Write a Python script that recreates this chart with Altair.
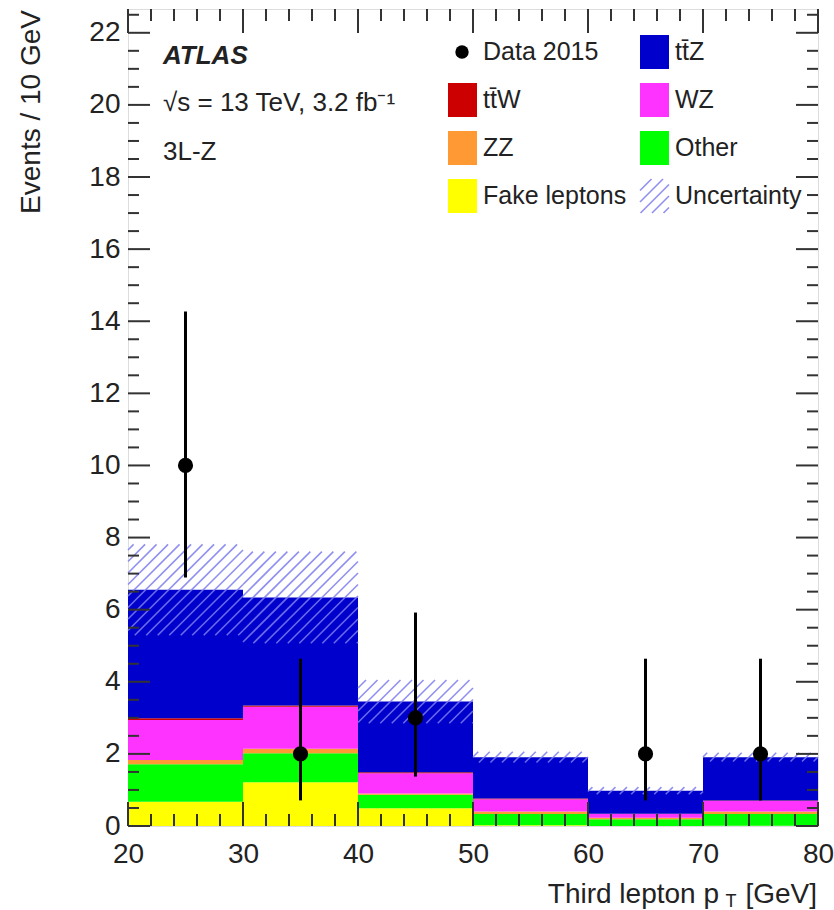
import altair as alt
import numpy as np
import pandas as pd

# ---------------- data ----------------
bin_lo = [20, 30, 40, 50, 60, 70]
bin_hi = [30, 40, 50, 60, 70, 80]
fake = [0.67, 1.21, 0.49, 0.02, 0.00, 0.01]
other = [1.04, 0.81, 0.38, 0.31, 0.19, 0.32]
zz = [0.12, 0.12, 0.03, 0.07, 0.04, 0.07]
wz = [1.11, 1.17, 0.56, 0.34, 0.10, 0.29]
ttw = [0.05, 0.03, 0.03, 0.02, 0.01, 0.02]
ttz = [3.56, 3.00, 1.96, 1.15, 0.64, 1.20]
unc = [1.26, 1.27, 0.60, 0.15, 0.10, 0.12]

data_x = [25, 35, 45, 65, 75]
data_y = [10, 2, 3, 2, 2]
data_lo = [6.89, 0.71, 1.37, 0.71, 0.71]
data_hi = [14.27, 4.64, 5.92, 4.64, 4.64]

processes = ["Fake leptons", "Other", "ZZ", "WZ", "tt\u0304W", "tt\u0304Z"]
proc_values = [fake, other, zz, wz, ttw, ttz]
proc_colors = ["#FFFF00", "#00FF00", "#FF9933", "#FF33FF", "#CC0000", "#0000CC"]

x_major = [20, 30, 40, 50, 60, 70, 80]
y_major = [0, 2, 4, 6, 8, 10, 12, 14, 16, 18, 20, 22]

# ---------------- geometry / style ----------------
W, H = 690, 817
XMIN, XMAX, YMAX = 20, 80, 22.66
FONT = "Liberation Sans"
TXT = "#222222"

xs = alt.Scale(domain=[XMIN, XMAX], nice=False, zero=False)
ys = alt.Scale(domain=[0, YMAX], nice=False, zero=True)
xaxis = alt.Axis(values=x_major, title=None, labelFontSize=28, labelFont=FONT,
                 labelColor=TXT, ticks=False, tickSize=0, domain=False, grid=False,
                 labelPadding=14, labelFlush=False, labelOverlap=False, format="d")
yaxis = alt.Axis(values=y_major, title=None, labelFontSize=28, labelFont=FONT,
                 labelColor=TXT, ticks=False, tickSize=0, domain=False, grid=False,
                 labelPadding=8, labelOverlap=False, format="d")


def X(f):
    return alt.X(f, type="quantitative", scale=xs, axis=xaxis)


def Y(f):
    return alt.Y(f, type="quantitative", scale=ys, axis=yaxis)


# ---------------- stacked histogram ----------------
rows = []
cum = np.zeros(len(bin_lo))
for name, vals, col in zip(processes, proc_values, proc_colors):
    v = np.array(vals)
    for i in range(len(bin_lo)):
        rows.append(dict(proc=name, lo=bin_lo[i], hi=bin_hi[i],
                         y0=cum[i], y1=cum[i] + v[i], color=col))
    cum = cum + v
stack_df = pd.DataFrame(rows)
totals = cum.copy()

stack = alt.Chart(stack_df).mark_rect(strokeWidth=0).encode(
    x=X("lo"), x2="hi", y=Y("y0"), y2="y1",
    color=alt.Color("color:N", scale=None),
)

# ---------------- uncertainty hatching ----------------
sx = W / (XMAX - XMIN)
sy = H / YMAX
spacing = 11.5
hrows = []
for lo, hi, tot, u in zip(bin_lo, bin_hi, totals, unc):
    x0, x1 = (lo - XMIN) * sx, (hi - XMIN) * sx
    y0, y1 = (tot - u) * sy, (tot + u) * sy
    kmin = int(np.floor((y0 - x1) / spacing))
    kmax = int(np.ceil((y1 - x0) / spacing))
    for k in range(kmin, kmax + 1):
        c = k * spacing
        xa = max(x0, y0 - c)
        xb = min(x1, y1 - c)
        if xb > xa + 0.5:
            hrows.append(dict(hx=XMIN + xa / sx, hy=(xa + c) / sy,
                              hx2=XMIN + xb / sx, hy2=(xb + c) / sy))
hatch_df = pd.DataFrame(hrows)
hatch = alt.Chart(hatch_df).mark_rule(color="#7d7dee", strokeWidth=1.6, opacity=0.85).encode(
    x=X("hx"), y=Y("hy"), x2="hx2", y2="hy2"
)

# ---------------- frame ticks ----------------
x_minor = [v for v in range(20, 81, 2) if v % 10 != 0]
y_minor = [v / 2 for v in range(0, 46) if v % 4 != 0]
xmaj_df = pd.DataFrame({"t": x_major})
xmin_df = pd.DataFrame({"t": x_minor})
ymaj_df = pd.DataFrame({"t": y_major})
ymin_df = pd.DataFrame({"t": y_minor})
TICKC = "#333333"
tick_layers = [
    alt.Chart(xmaj_df).mark_rule(color=TICKC, strokeWidth=2).encode(
        x=X("t"), y=alt.value(H), y2=alt.value(H - 24)),
    alt.Chart(xmin_df).mark_rule(color=TICKC, strokeWidth=2).encode(
        x=X("t"), y=alt.value(H), y2=alt.value(H - 12)),
    alt.Chart(xmaj_df).mark_rule(color=TICKC, strokeWidth=2).encode(
        x=X("t"), y=alt.value(0), y2=alt.value(24)),
    alt.Chart(xmin_df).mark_rule(color=TICKC, strokeWidth=2).encode(
        x=X("t"), y=alt.value(0), y2=alt.value(12)),
    alt.Chart(ymaj_df).mark_rule(color=TICKC, strokeWidth=2).encode(
        y=Y("t"), x=alt.value(0), x2=alt.value(22)),
    alt.Chart(ymin_df).mark_rule(color=TICKC, strokeWidth=2).encode(
        y=Y("t"), x=alt.value(0), x2=alt.value(11)),
    alt.Chart(ymaj_df).mark_rule(color=TICKC, strokeWidth=2).encode(
        y=Y("t"), x=alt.value(W), x2=alt.value(W - 22)),
    alt.Chart(ymin_df).mark_rule(color=TICKC, strokeWidth=2).encode(
        y=Y("t"), x=alt.value(W), x2=alt.value(W - 11)),
]

# ---------------- data points ----------------
pts_df = pd.DataFrame({"x": data_x, "y": data_y, "lo": data_lo, "hi": data_hi})
errbars = alt.Chart(pts_df).mark_rule(color="black", strokeWidth=3).encode(
    x=X("x"), y=Y("lo"), y2="hi")
points = alt.Chart(pts_df).mark_circle(color="black", opacity=1, size=230).encode(
    x=X("x"), y=Y("y"))

# ---------------- texts ----------------
def label(text, x, y, size=26, align="left", baseline="middle", weight="normal",
          style="normal", angle=0):
    return alt.Chart(pd.DataFrame({"t": [text]})).mark_text(
        font=FONT, fontSize=size, align=align, baseline=baseline, fontWeight=weight,
        fontStyle=style, color=TXT, angle=angle).encode(
        text="t:N", x=alt.value(x), y=alt.value(y))


texts = [
    label("ATLAS", 35, 47, size=26, weight="bold", style="italic"),
    label("\u221as = 13 TeV, 3.2 fb\u207b\u00b9", 35, 94, size=26),
    label("3L-Z", 35, 143, size=26),
    label("Events / 10 GeV", -88, 1, size=28, align="right", baseline="alphabetic", angle=270),
    label("[GeV]", 689, 894, size=28, align="right", baseline="alphabetic"),
    label("Third lepton p", 591, 894, size=28, align="right", baseline="alphabetic"),
    label("T", 603, 898, size=18, align="center", baseline="alphabetic"),
]

# ---------------- legend ----------------
col_box_x = [320, 512]
col_txt_x = [355, 547]
row_y = [43, 91, 139, 187]
leg_items = [  # (label, color, col, row)
    ("tt\u0304W", "#CC0000", 0, 1),
    ("ZZ", "#FF9933", 0, 2),
    ("Fake leptons", "#FFFF00", 0, 3),
    ("tt\u0304Z", "#0000CC", 1, 0),
    ("WZ", "#FF33FF", 1, 1),
    ("Other", "#00FF00", 1, 2),
]
leg_df = pd.DataFrame([
    dict(lab=l, color=c, bx0=col_box_x[ci], bx1=col_box_x[ci] + 29,
         by0=row_y[ri] - 17, by1=row_y[ri] + 17, tx=col_txt_x[ci], ty=row_y[ri])
    for l, c, ci, ri in leg_items
])
leg_boxes = alt.Chart(leg_df).mark_rect().encode(
    x=alt.X("bx0:Q", scale=None), x2="bx1:Q",
    y=alt.Y("by0:Q", scale=None), y2="by1:Q",
    color=alt.Color("color:N", scale=None))

leg_txt_df = pd.concat([
    leg_df[["lab", "tx", "ty"]],
    pd.DataFrame([dict(lab="Data 2015", tx=col_txt_x[0], ty=row_y[0]),
                  dict(lab="Uncertainty", tx=col_txt_x[1], ty=row_y[3])]),
], ignore_index=True)
leg_txt = alt.Chart(leg_txt_df).mark_text(
    font=FONT, fontSize=25, align="left", baseline="middle", color=TXT).encode(
    x=alt.X("tx:Q", scale=None), y=alt.Y("ty:Q", scale=None), text="lab:N")

leg_dot = alt.Chart(pd.DataFrame({"px": [col_box_x[0] + 14], "py": [row_y[0]]})).mark_circle(
    color="black", opacity=1, size=180).encode(
    x=alt.X("px:Q", scale=None), y=alt.Y("py:Q", scale=None))

# hatch inside the legend "Uncertainty" box (screen coordinates, y downward)
bx0, bx1 = col_box_x[1], col_box_x[1] + 29
by0, by1 = row_y[3] - 17, row_y[3] + 17
lrows = []
for k in range(-10, 20):
    c = bx0 + by0 + k * spacing  # line: x + y = c
    xa = max(bx0, c - by1)
    xb = min(bx1, c - by0)
    if xb > xa + 0.5:
        lrows.append(dict(lx=xa, ly=c - xa, lx2=xb, ly2=c - xb))
leg_hatch = alt.Chart(pd.DataFrame(lrows)).mark_rule(
    color="#7d7dee", strokeWidth=1.6, opacity=0.85).encode(
    x=alt.X("lx:Q", scale=None), y=alt.Y("ly:Q", scale=None),
    x2="lx2:Q", y2="ly2:Q")

chart = alt.layer(
    stack, hatch, *tick_layers, errbars, points, *texts,
    leg_boxes, leg_hatch, leg_dot, leg_txt,
).properties(
    width=W, height=H,
    autosize=alt.AutoSizeParams(type="none"),
    padding={"left": 128, "top": 9, "right": 16, "bottom": 84},
).configure_view(
    stroke="#222222", strokeWidth=2
).configure(background="white")

chart.save("out.html", embed_options={"renderer": "svg", "actions": False})
